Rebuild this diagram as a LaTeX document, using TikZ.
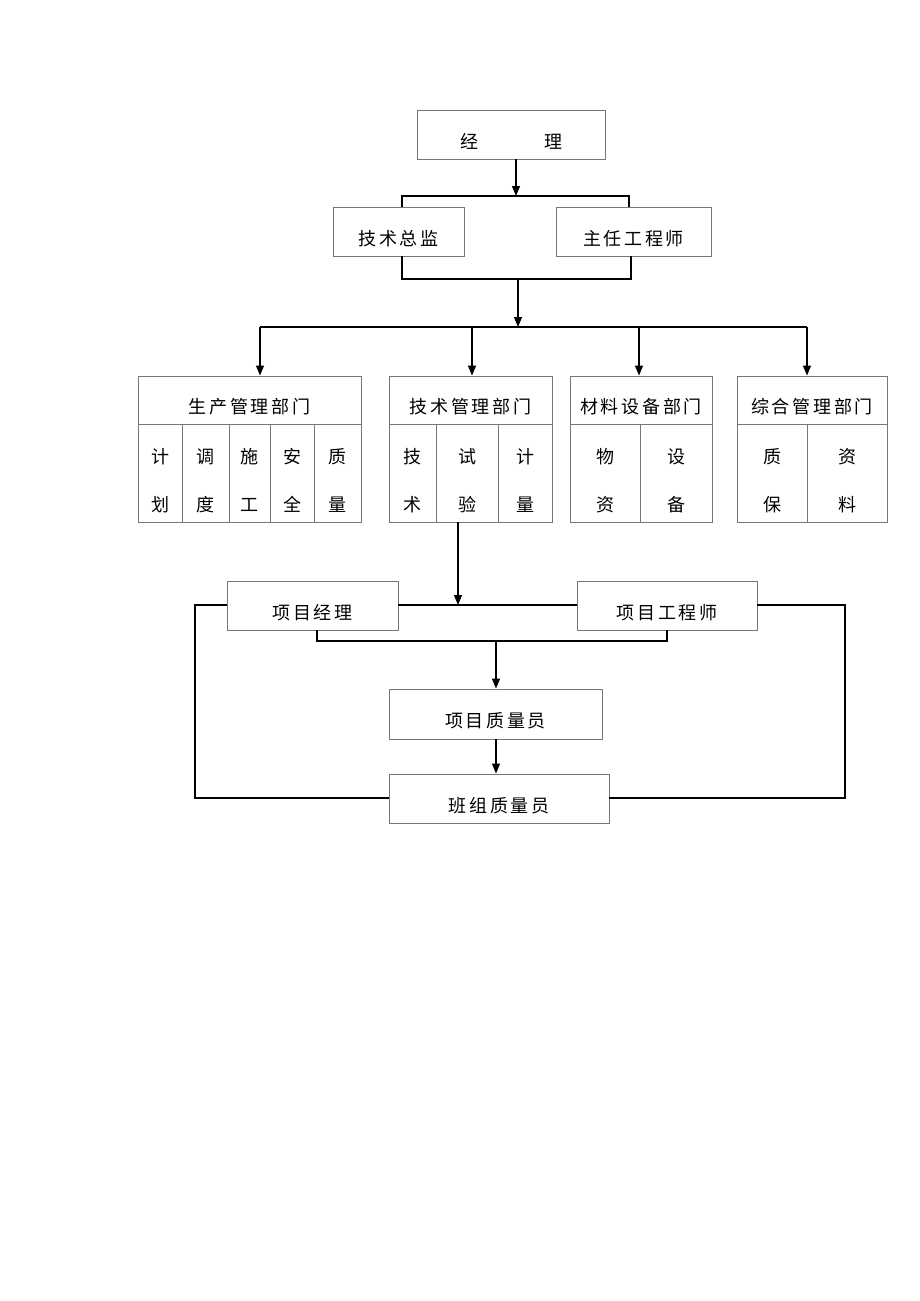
\documentclass[tikz,border=0pt]{standalone}
\usepackage{fontspec}
\usetikzlibrary{arrows.meta}
\newfontfamily\cjk[LetterSpace=15]{Noto Sans CJK SC}
\definecolor{boxc}{RGB}{128,112,128}
\tikzset{
  box/.style={draw=boxc, line width=0.9pt, rectangle, inner sep=0pt, text height=27.6pt, text depth=0pt, font=\cjk\fontsize{18}{20}\selectfont},
  col/.style={box, align=center, text height=76pt, text depth=0pt, font=\cjk\fontsize{18}{48}\selectfont},
  conn/.style={draw=black, line width=1.2pt},
  arr/.style={conn, -{Triangle[length=10pt,width=8pt]}},
}
\begin{document}
\begin{tikzpicture}[x=1pt,y=-1pt]
\useasboundingbox (0,0) rectangle (920,1301);
% top
\node[box, minimum width=188, minimum height=49] (jl) at (511,134.5) {经\hspace{66pt}理};
\node[box, minimum width=131, minimum height=49] (jszj) at (398.5,231.5) {技术总监};
\node[box, minimum width=155, minimum height=49] (zrgcs) at (633.5,231.5) {主任工程师};
\coordinate (b1) at (516,196);
\coordinate (b1l) at (402,196);
\coordinate (b1r) at (629,196);
\draw[arr] (jl.south -| b1) -- (b1);
\draw[conn] (jszj.north -| b1l) -- (b1l) -- (b1r) -- (zrgcs.north -| b1r);
\coordinate (b2l) at (402,279);
\coordinate (b2r) at (631,279);
\coordinate (b2m) at (518,279);
\draw[conn] (jszj.south -| b2l) -- (b2l) -- (b2r) -- (zrgcs.south -| b2r);
% bus
\coordinate (bus) at (518,327);
\coordinate (busl) at (260,327);
\coordinate (busr) at (807,327);
\draw[arr] (b2m) -- (bus);
\draw[conn] (busl) -- (busr);
% dept 1
\node[box, minimum width=223, minimum height=48] (h1) at (249.5,400) {生产管理部门};
\node[col, minimum width=44, minimum height=98] (c11) at (160,473) {计\\划};
\node[col, minimum width=47, minimum height=98] (c12) at (205.5,473) {调\\度};
\node[col, minimum width=41, minimum height=98] (c13) at (249.5,473) {施\\工};
\node[col, minimum width=44, minimum height=98] (c14) at (292,473) {安\\全};
\node[col, minimum width=47, minimum height=98] (c15) at (337.5,473) {质\\量};
% dept 2
\node[box, minimum width=163, minimum height=48] (h2) at (470.5,400) {技术管理部门};
\node[col, minimum width=47, minimum height=98] (c21) at (412.5,473) {技\\术};
\node[col, minimum width=62, minimum height=98] (c22) at (467,473) {试\\验};
\node[col, minimum width=54, minimum height=98] (c23) at (525,473) {计\\量};
% dept 3
\node[box, minimum width=142, minimum height=48] (h3) at (641,400) {材料设备部门};
\node[col, minimum width=70, minimum height=98] (c31) at (605,473) {物\\资};
\node[col, minimum width=72, minimum height=98] (c32) at (676,473) {设\\备};
% dept 4
\node[box, minimum width=150, minimum height=48] (h4) at (812,400) {综合管理部门};
\node[col, minimum width=70, minimum height=98] (c41) at (772,473) {质\\保};
\node[col, minimum width=80, minimum height=98] (c42) at (847,473) {资\\料};
\draw[arr] (busl) -- (h1.north -| busl);
\coordinate (a2) at (472,327);
\coordinate (a3) at (639,327);
\draw[arr] (a2) -- (h2.north -| a2);
\draw[arr] (a3) -- (h3.north -| a3);
\draw[arr] (busr) -- (h4.north -| busr);
% project level
\node[box, minimum width=171, minimum height=49] (xmjl) at (312.5,605.5) {项目经理};
\node[box, minimum width=180, minimum height=49] (xmgcs) at (667,605.5) {项目工程师};
\node[box, minimum width=213, minimum height=50] (xmzly) at (495.5,714) {项目质量员};
\node[box, minimum width=220, minimum height=49] (bzzly) at (499,798.5) {班组质量员};
\coordinate (t2) at (458,605);
\draw[arr] (c22.south -| t2) -- (t2);
\draw[conn] (xmjl.east |- t2) -- (xmgcs.west |- t2);
\coordinate (lt) at (195,605);
\coordinate (lb) at (195,798);
\coordinate (rt) at (845,605);
\coordinate (rb) at (845,798);
\draw[conn] (xmjl.west |- lt) -- (lt) -- (lb) -- (bzzly.west |- lb);
\draw[conn] (xmgcs.east |- rt) -- (rt) -- (rb) -- (bzzly.east |- rb);
\coordinate (b3l) at (317,641);
\coordinate (b3r) at (667,641);
\coordinate (b3m) at (496,641);
\draw[conn] (xmjl.south -| b3l) -- (b3l) -- (b3r) -- (xmgcs.south -| b3r);
\draw[arr] (b3m) -- (xmzly.north -| b3m);
\draw[arr] (xmzly.south -| b3m) -- (bzzly.north -| b3m);
\end{tikzpicture}
\end{document}
